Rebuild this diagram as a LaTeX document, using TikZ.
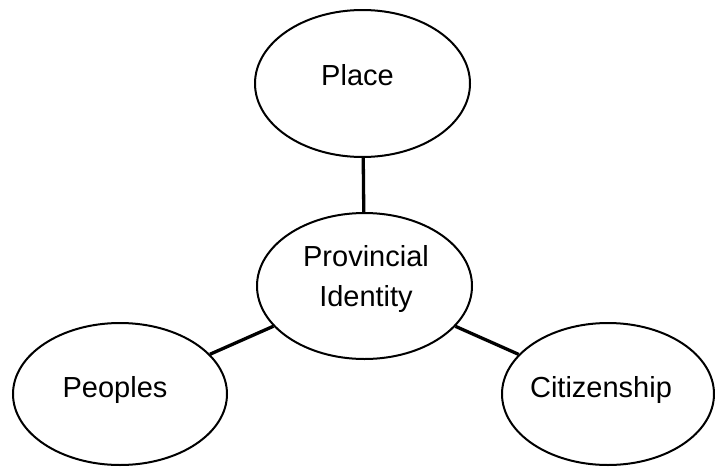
\documentclass[tikz,border=0pt]{standalone}
\usepackage{fontspec}
\setmainfont{Liberation Sans}
\usetikzlibrary{shapes.geometric}
\begin{document}
\begin{tikzpicture}[x=1pt,y=-1pt,
  ell/.style={ellipse,draw=black,line width=2pt,inner sep=0pt,fill=white},
  txt/.style={font=\fontsize{29}{40}\selectfont,inner sep=0pt,anchor=base,align=center},
  conn/.style={draw=black,line width=3.3pt}]
\useasboundingbox (0,0) rectangle (715,466);
\node[ell,minimum width=215pt,minimum height=147pt] (place) at (362.5,83.5) {};
\node[ell,minimum width=215pt,minimum height=146pt] (prov) at (364.5,286) {};
\node[ell,minimum width=214pt,minimum height=142pt] (peop) at (120,394) {};
\node[ell,minimum width=212pt,minimum height=142pt] (citi) at (608,394) {};
\draw[conn] (place) -- (prov);
\draw[conn] (prov) -- (peop);
\draw[conn] (prov) -- (citi);
\node[txt] (placet) at (357.5,85) {Place};
\node[txt] (provt) at (366,306) {Provincial\\Identity};
\node[txt] (peopt) at (115,397) {Peoples};
\node[txt] (citit) at (601,397) {Citizenship};
\end{tikzpicture}
\end{document}
